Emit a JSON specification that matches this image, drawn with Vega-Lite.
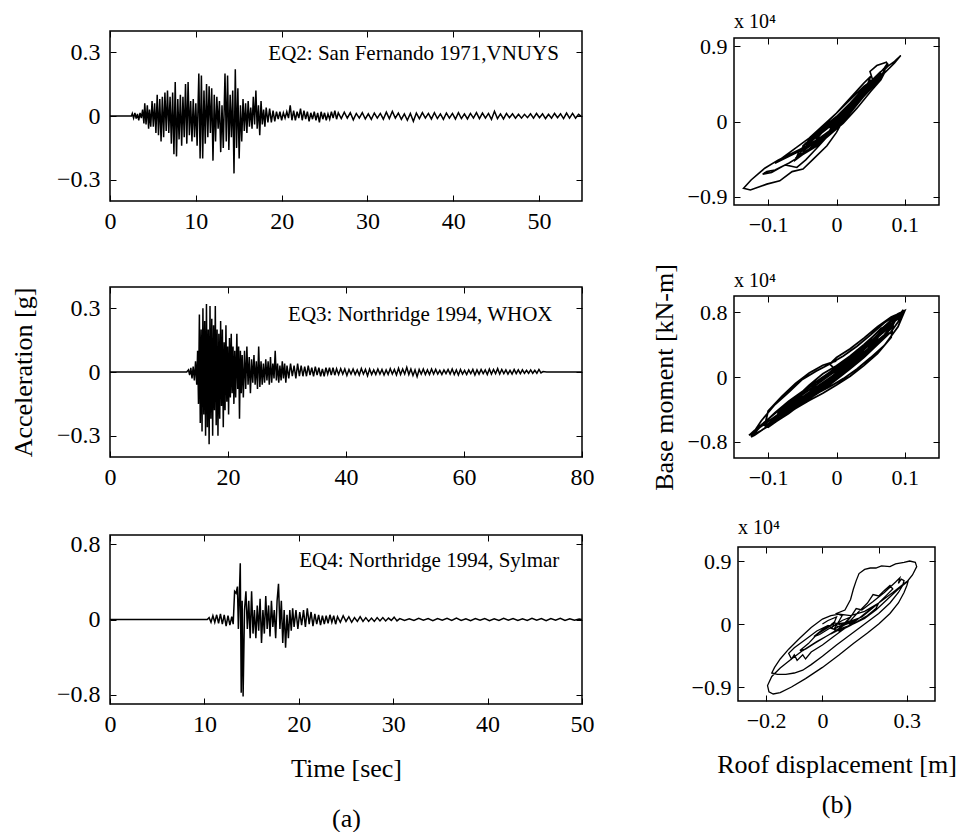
{
"$schema": "https://vega.github.io/schema/vega-lite/v6.json",
"background": "white",
"autosize": {"type": "pad"},
"padding": {"left": 9, "top": 11, "right": 0, "bottom": 0},
"bounds": "full",
"spacing": 55,
"hconcat": [
{"bounds": "flush", "spacing": 3, "vconcat": [
  {"width": 472, "height": 170,
   "layer": [
    {"data": {"values": [
{"t":0,"a":0},{"t":2.5,"a":0},{"t":2.6,"a":0.012},{"t":2.75,"a":-0.01},{"t":2.9,"a":0.015},{"t":3.05,"a":-0.012},{"t":3.2,"a":0.01},{"t":3.35,"a":-0.02},{"t":3.5,"a":0.015},{"t":3.65,"a":-0.01},{"t":3.8,"a":0.03},{"t":3.95,"a":-0.035},{"t":4.05,"a":0.06},{"t":4.2,"a":-0.04},{"t":4.35,"a":0.05},{"t":4.5,"a":-0.06},{"t":4.6,"a":0.03},{"t":4.75,"a":-0.05},{"t":4.9,"a":0.07},{"t":5.05,"a":-0.05},{"t":5.2,"a":0.06},{"t":5.35,"a":-0.08},{"t":5.5,"a":0.1},{"t":5.65,"a":-0.09},{"t":5.8,"a":0.08},{"t":5.95,"a":-0.12},{"t":6.1,"a":0.09},{"t":6.25,"a":-0.1},{"t":6.4,"a":0.11},{"t":6.55,"a":-0.07},{"t":6.7,"a":0.12},{"t":6.85,"a":-0.08},{"t":7.0,"a":0.09},{"t":7.15,"a":-0.13},{"t":7.3,"a":0.11},{"t":7.45,"a":-0.18},{"t":7.6,"a":0.16},{"t":7.75,"a":-0.19},{"t":7.9,"a":0.08},{"t":8.05,"a":-0.11},{"t":8.2,"a":0.1},{"t":8.35,"a":-0.14},{"t":8.5,"a":0.09},{"t":8.65,"a":-0.1},{"t":8.8,"a":0.15},{"t":8.95,"a":-0.13},{"t":9.1,"a":0.16},{"t":9.25,"a":-0.09},{"t":9.4,"a":0.07},{"t":9.55,"a":-0.12},{"t":9.7,"a":0.08},{"t":9.85,"a":-0.1},{"t":10.0,"a":0.06},{"t":10.15,"a":-0.14},{"t":10.35,"a":0.2},{"t":10.5,"a":-0.2},{"t":10.65,"a":0.19},{"t":10.8,"a":-0.2},{"t":10.95,"a":0.12},{"t":11.1,"a":-0.13},{"t":11.25,"a":0.15},{"t":11.4,"a":-0.1},{"t":11.55,"a":0.14},{"t":11.7,"a":-0.08},{"t":11.85,"a":0.13},{"t":12.0,"a":-0.21},{"t":12.15,"a":0.1},{"t":12.3,"a":-0.12},{"t":12.45,"a":0.09},{"t":12.6,"a":-0.06},{"t":12.75,"a":0.07},{"t":12.9,"a":-0.17},{"t":13.05,"a":0.05},{"t":13.2,"a":-0.15},{"t":13.4,"a":0.2},{"t":13.55,"a":-0.12},{"t":13.7,"a":0.19},{"t":13.85,"a":-0.16},{"t":14.0,"a":0.1},{"t":14.15,"a":-0.1},{"t":14.3,"a":0.12},{"t":14.45,"a":-0.27},{"t":14.6,"a":0.22},{"t":14.75,"a":-0.15},{"t":14.9,"a":0.13},{"t":15.05,"a":-0.2},{"t":15.2,"a":0.05},{"t":15.35,"a":-0.12},{"t":15.5,"a":0.08},{"t":15.65,"a":-0.07},{"t":15.8,"a":0.06},{"t":15.95,"a":-0.08},{"t":16.1,"a":0.07},{"t":16.25,"a":-0.05},{"t":16.4,"a":0.04},{"t":16.55,"a":-0.06},{"t":16.7,"a":0.09},{"t":16.85,"a":-0.04},{"t":17.0,"a":0.12},{"t":17.15,"a":-0.06},{"t":17.3,"a":0.05},{"t":17.45,"a":-0.09},{"t":17.6,"a":0.07},{"t":17.75,"a":-0.04},{"t":17.9,"a":0.03},{"t":18.05,"a":-0.05},{"t":18.2,"a":0.04},{"t":18.4,"a":-0.03},{"t":18.6,"a":0.035},{"t":18.8,"a":-0.03},{"t":19.0,"a":0.025},{"t":19.2,"a":-0.025},{"t":19.4,"a":0.02},{"t":19.6,"a":-0.015},{"t":19.8,"a":0.02},{"t":20.0,"a":-0.02},{"t":20.2,"a":0.015},{"t":20.4,"a":-0.01},{"t":20.6,"a":0.02},{"t":20.8,"a":-0.01},{"t":21.0,"a":0.05},{"t":21.2,"a":-0.02},{"t":21.4,"a":0.025},{"t":21.6,"a":-0.02},{"t":21.8,"a":0.02},{"t":22.0,"a":-0.01},{"t":22.2,"a":0.035},{"t":22.4,"a":-0.02},{"t":22.6,"a":0.025},{"t":22.8,"a":-0.015},{"t":23.0,"a":0.02},{"t":23.2,"a":-0.025},{"t":23.4,"a":0.015},{"t":23.6,"a":-0.015},{"t":23.8,"a":0.02},{"t":24.0,"a":-0.02},{"t":24.2,"a":0.015},{"t":24.4,"a":-0.03},{"t":24.6,"a":0.02},{"t":24.8,"a":-0.015},{"t":25.0,"a":0.015},{"t":25.2,"a":-0.02},{"t":25.4,"a":0.01},{"t":25.6,"a":-0.015},{"t":25.8,"a":0.02},{"t":26.0,"a":-0.01},{"t":26.2,"a":0.025},{"t":26.4,"a":-0.015},{"t":26.6,"a":0.015},
{"t":26.95,"a":-0.012},{"t":27.3,"a":0.018},{"t":27.65,"a":-0.01},{"t":28.0,"a":0.015},{"t":28.35,"a":-0.018},{"t":28.7,"a":0.012},{"t":29.05,"a":-0.01},{"t":29.4,"a":0.016},{"t":29.75,"a":-0.014},{"t":30.1,"a":0.01},{"t":30.45,"a":-0.016},{"t":30.8,"a":0.014},{"t":31.15,"a":-0.01},{"t":31.5,"a":0.012},{"t":31.85,"a":-0.015},{"t":32.2,"a":0.018},{"t":32.55,"a":-0.012},{"t":32.9,"a":0.022},{"t":33.25,"a":-0.01},{"t":33.6,"a":0.014},{"t":33.95,"a":-0.016},{"t":34.3,"a":0.01},{"t":34.65,"a":-0.02},{"t":35.0,"a":0.012},{"t":35.35,"a":-0.025},{"t":35.7,"a":0.014},{"t":36.05,"a":-0.012},{"t":36.4,"a":0.016},{"t":36.75,"a":-0.01},{"t":37.1,"a":0.012},{"t":37.45,"a":-0.014},{"t":37.8,"a":0.016},{"t":38.15,"a":-0.012},{"t":38.5,"a":0.01},{"t":38.85,"a":-0.016},{"t":39.2,"a":0.014},{"t":39.55,"a":-0.01},{"t":39.9,"a":0.012},{"t":40.25,"a":-0.014},{"t":40.6,"a":0.016},{"t":40.95,"a":-0.012},{"t":41.3,"a":0.01},{"t":41.65,"a":-0.014},{"t":42.0,"a":0.012},{"t":42.35,"a":-0.01},{"t":42.7,"a":0.016},{"t":43.05,"a":-0.012},{"t":43.4,"a":0.014},{"t":43.75,"a":-0.01},{"t":44.1,"a":0.012},{"t":44.45,"a":-0.016},{"t":44.8,"a":0.022},{"t":45.15,"a":-0.012},{"t":45.5,"a":0.01},{"t":45.85,"a":-0.014},{"t":46.2,"a":0.012},{"t":46.55,"a":-0.008},{"t":46.9,"a":0.01},{"t":47.25,"a":-0.01},{"t":47.6,"a":0.008},{"t":47.95,"a":-0.01},{"t":48.3,"a":0.008},{"t":48.65,"a":-0.008},{"t":49.0,"a":0.01},{"t":49.35,"a":-0.01},{"t":49.7,"a":0.012},{"t":50.05,"a":-0.008},{"t":50.4,"a":0.01},{"t":50.75,"a":-0.012},{"t":51.1,"a":0.008},{"t":51.45,"a":-0.01},{"t":51.8,"a":0.012},{"t":52.15,"a":-0.008},{"t":52.5,"a":0.01},{"t":52.85,"a":-0.012},{"t":53.2,"a":0.014},{"t":53.55,"a":-0.01},{"t":53.9,"a":0.012},{"t":54.25,"a":-0.01},{"t":54.6,"a":0.008},{"t":55.0,"a":-0.004}
    ]},
     "mark": {"type": "line", "strokeWidth": 1.5, "clip": true},
     "encoding": {
      "x": {"field": "t", "type": "quantitative", "scale": {"domain": [0, 55], "nice": false, "zero": false},
            "axis": {"orient": "bottom", "values": [0,10,20,30,40,50], "title": null, "labelPadding": 14}},
      "y": {"field": "a", "type": "quantitative", "scale": {"domain": [-0.4, 0.4], "nice": false},
            "axis": {"orient": "left", "values": [-0.3,0,0.3], "title": null, "labelPadding": 16}}
     }},
    {"data": {"values": [{}]},
     "mark": {"type": "text", "align": "right", "baseline": "middle", "fontSize": 21},
     "encoding": {
      "x": {"datum": 52.3, "type": "quantitative", "axis": {"orient": "top", "values": [0,10,20,30,40,50], "labels": false, "title": null}},
      "y": {"datum": 0.29, "type": "quantitative", "axis": {"orient": "right", "values": [-0.3,0,0.3], "labels": false, "title": null}},
      "text": {"value": "EQ2: San Fernando 1971,VNUYS"}
     }}
   ],
   "resolve": {"axis": {"x": "independent", "y": "independent"}}
  },
  {"width": 1, "height": 80, "data": {"values": [{}]}, "mark": {"type": "point", "opacity": 0}, "encoding": {}, "view": {"stroke": null}},
  {"width": 472, "height": 170,
   "layer": [
    {"data": {"values": [
{"t":0,"a":0},{"t":13.0,"a":0},{"t":13.3,"a":0.01},{"t":13.5,"a":-0.015},{"t":13.7,"a":0.02},{"t":13.9,"a":-0.03},{"t":14.1,"a":0.025},{"t":14.3,"a":-0.04},{"t":14.5,"a":0.05},{"t":14.7,"a":-0.06},{"t":14.85,"a":0.1},{"t":15.0,"a":-0.15},{"t":15.15,"a":0.27},{"t":15.3,"a":-0.24},{"t":15.45,"a":0.2},{"t":15.6,"a":-0.28},{"t":15.75,"a":0.3},{"t":15.9,"a":-0.2},{"t":16.05,"a":0.24},{"t":16.2,"a":-0.3},{"t":16.35,"a":0.32},{"t":16.5,"a":-0.26},{"t":16.65,"a":0.2},{"t":16.8,"a":-0.34},{"t":16.95,"a":0.31},{"t":17.1,"a":-0.22},{"t":17.25,"a":0.25},{"t":17.4,"a":-0.3},{"t":17.55,"a":0.22},{"t":17.7,"a":-0.18},{"t":17.85,"a":0.31},{"t":18.0,"a":-0.25},{"t":18.15,"a":0.2},{"t":18.3,"a":-0.3},{"t":18.45,"a":0.18},{"t":18.6,"a":-0.22},{"t":18.75,"a":0.24},{"t":18.9,"a":-0.16},{"t":19.05,"a":0.2},{"t":19.2,"a":-0.26},{"t":19.35,"a":0.14},{"t":19.5,"a":-0.18},{"t":19.65,"a":0.22},{"t":19.8,"a":-0.14},{"t":19.95,"a":0.12},{"t":20.1,"a":-0.2},{"t":20.25,"a":0.16},{"t":20.4,"a":-0.12},{"t":20.55,"a":0.18},{"t":20.7,"a":-0.1},{"t":20.85,"a":0.12},{"t":21.0,"a":-0.15},{"t":21.15,"a":0.1},{"t":21.3,"a":-0.12},{"t":21.5,"a":0.18},{"t":21.65,"a":-0.08},{"t":21.8,"a":0.12},{"t":21.95,"a":-0.22},{"t":22.1,"a":0.1},{"t":22.25,"a":-0.1},{"t":22.4,"a":0.08},{"t":22.6,"a":-0.12},{"t":22.8,"a":0.1},{"t":23.0,"a":-0.08},{"t":23.2,"a":0.12},{"t":23.4,"a":-0.06},{"t":23.6,"a":0.07},{"t":23.8,"a":-0.1},{"t":24.0,"a":0.06},{"t":24.2,"a":-0.05},{"t":24.4,"a":0.08},{"t":24.6,"a":-0.06},{"t":24.8,"a":0.05},{"t":25.0,"a":-0.08},{"t":25.2,"a":0.12},{"t":25.4,"a":-0.07},{"t":25.6,"a":0.05},{"t":25.8,"a":-0.06},{"t":26.0,"a":0.04},{"t":26.2,"a":-0.05},{"t":26.4,"a":0.06},{"t":26.6,"a":-0.04},{"t":26.8,"a":0.05},{"t":27.0,"a":-0.06},{"t":27.2,"a":0.07},{"t":27.4,"a":-0.05},{"t":27.6,"a":0.04},{"t":27.8,"a":-0.03},{"t":28.0,"a":0.1},{"t":28.2,"a":-0.04},{"t":28.4,"a":0.04},{"t":28.6,"a":-0.05},{"t":28.8,"a":0.03},{"t":29.0,"a":-0.04},{"t":29.2,"a":0.05},{"t":29.4,"a":-0.03},{"t":29.6,"a":0.04},{"t":29.8,"a":-0.05},{"t":30.0,"a":0.03},{"t":30.3,"a":-0.03},{"t":30.6,"a":0.04},{"t":30.9,"a":-0.02},{"t":31.2,"a":0.03},{"t":31.5,"a":-0.03},{"t":31.8,"a":0.04},{"t":32.1,"a":-0.02},{"t":32.4,"a":0.03},{"t":32.7,"a":-0.02},{"t":33.0,"a":0.025},{"t":33.3,"a":-0.02},{"t":33.6,"a":0.03},{"t":33.9,"a":-0.015},{"t":34.2,"a":0.02},{"t":34.5,"a":-0.02},{"t":34.8,"a":0.025},{"t":35.1,"a":-0.015},{"t":35.4,"a":0.02},{"t":35.7,"a":-0.02},{"t":36.0,"a":0.015},{"t":36.3,"a":-0.02},{"t":36.6,"a":0.02},{"t":36.9,"a":-0.01},{"t":37.2,"a":0.02},{"t":37.5,"a":-0.015},{"t":37.8,"a":0.02},{"t":38.1,"a":-0.015},{"t":38.4,"a":0.015},
{"t":38.75,"a":-0.012},{"t":39.1,"a":0.016},{"t":39.45,"a":-0.01},{"t":39.8,"a":0.014},{"t":40.15,"a":-0.016},{"t":40.5,"a":0.012},{"t":40.85,"a":-0.01},{"t":41.2,"a":0.014},{"t":41.55,"a":-0.012},{"t":41.9,"a":0.01},{"t":42.25,"a":-0.014},{"t":42.6,"a":0.016},{"t":42.95,"a":-0.01},{"t":43.3,"a":0.012},{"t":43.65,"a":-0.018},{"t":44.0,"a":0.014},{"t":44.35,"a":-0.012},{"t":44.7,"a":0.01},{"t":45.05,"a":-0.012},{"t":45.4,"a":0.014},{"t":45.75,"a":-0.01},{"t":46.1,"a":0.012},{"t":46.45,"a":-0.014},{"t":46.8,"a":0.01},{"t":47.15,"a":-0.012},{"t":47.5,"a":0.016},{"t":47.85,"a":-0.01},{"t":48.2,"a":0.012},{"t":48.55,"a":-0.014},{"t":48.9,"a":0.018},{"t":49.25,"a":-0.012},{"t":49.6,"a":0.014},{"t":49.95,"a":-0.01},{"t":50.3,"a":0.022},{"t":50.65,"a":-0.012},{"t":51.0,"a":0.014},{"t":51.35,"a":-0.016},{"t":51.7,"a":0.01},{"t":52.05,"a":-0.022},{"t":52.4,"a":0.012},{"t":52.75,"a":-0.01},{"t":53.1,"a":0.014},{"t":53.45,"a":-0.012},{"t":53.8,"a":0.01},{"t":54.15,"a":-0.012},{"t":54.5,"a":0.014},{"t":54.85,"a":-0.01},{"t":55.2,"a":0.012},{"t":55.55,"a":-0.01},{"t":55.9,"a":0.008},{"t":56.25,"a":-0.012},{"t":56.6,"a":0.01},{"t":56.95,"a":-0.008},{"t":57.3,"a":0.012},{"t":57.65,"a":-0.01},{"t":58.0,"a":0.014},{"t":58.35,"a":-0.012},{"t":58.7,"a":0.01},{"t":59.05,"a":-0.014},{"t":59.4,"a":0.012},{"t":59.75,"a":-0.01},{"t":60.1,"a":0.008},{"t":60.45,"a":-0.012},{"t":60.8,"a":0.01},{"t":61.15,"a":-0.008},{"t":61.5,"a":0.012},{"t":61.85,"a":-0.014},{"t":62.2,"a":0.01},{"t":62.55,"a":-0.01},{"t":62.9,"a":0.012},{"t":63.25,"a":-0.008},{"t":63.6,"a":0.01},{"t":63.95,"a":-0.012},{"t":64.3,"a":0.014},{"t":64.65,"a":-0.01},{"t":65.0,"a":0.012},{"t":65.35,"a":-0.008},{"t":65.7,"a":0.016},{"t":66.05,"a":-0.01},{"t":66.4,"a":0.012},{"t":66.75,"a":-0.008},{"t":67.1,"a":0.01},{"t":67.45,"a":-0.01},{"t":67.8,"a":0.008},{"t":68.15,"a":-0.01},{"t":68.5,"a":0.012},{"t":68.85,"a":-0.008},{"t":69.2,"a":0.01},{"t":69.55,"a":-0.008},{"t":69.9,"a":0.01},{"t":70.25,"a":-0.006},{"t":70.6,"a":0.008},{"t":70.95,"a":-0.006},{"t":71.3,"a":0.01},{"t":71.65,"a":-0.006},{"t":72.0,"a":0.008},{"t":72.35,"a":-0.006},{"t":72.7,"a":0.012},{"t":73.05,"a":-0.004},{"t":73.4,"a":0.002},{"t":74,"a":0},{"t":80,"a":0}
    ]},
     "mark": {"type": "line", "strokeWidth": 1.5, "clip": true},
     "encoding": {
      "x": {"field": "t", "type": "quantitative", "scale": {"domain": [0, 80], "nice": false, "zero": false},
            "axis": {"orient": "bottom", "values": [0,20,40,60,80], "title": null, "labelPadding": 14}},
      "y": {"field": "a", "type": "quantitative", "scale": {"domain": [-0.4, 0.4], "nice": false},
            "axis": {"orient": "left", "values": [-0.3,0,0.3], "title": "Acceleration [g]", "titlePadding": 20, "labelPadding": 16}}
     }},
    {"data": {"values": [{}]},
     "mark": {"type": "text", "align": "right", "baseline": "middle", "fontSize": 21},
     "encoding": {
      "x": {"datum": 75.0, "type": "quantitative", "axis": {"orient": "top", "values": [0,20,40,60,80], "labels": false, "title": null}},
      "y": {"datum": 0.27, "type": "quantitative", "axis": {"orient": "right", "values": [-0.3,0,0.3], "labels": false, "title": null}},
      "text": {"value": "EQ3: Northridge 1994, WHOX"}
     }}
   ],
   "resolve": {"axis": {"x": "independent", "y": "independent"}}
  },
  {"width": 1, "height": 72, "data": {"values": [{}]}, "mark": {"type": "point", "opacity": 0}, "encoding": {}, "view": {"stroke": null}},
  {"width": 472, "height": 169,
   "layer": [
    {"data": {"values": [
{"t":0,"a":0},{"t":10.3,"a":0},{"t":10.5,"a":0.02},{"t":10.7,"a":-0.03},{"t":10.9,"a":0.04},{"t":11.1,"a":-0.03},{"t":11.3,"a":0.05},{"t":11.5,"a":-0.04},{"t":11.7,"a":0.06},{"t":11.9,"a":-0.05},{"t":12.1,"a":0.05},{"t":12.3,"a":-0.07},{"t":12.5,"a":0.04},{"t":12.7,"a":-0.06},{"t":12.9,"a":0.03},{"t":13.05,"a":-0.05},{"t":13.2,"a":0.3},{"t":13.35,"a":0.28},{"t":13.5,"a":0.35},{"t":13.6,"a":-0.1},{"t":13.7,"a":0.25},{"t":13.8,"a":0.6},{"t":13.9,"a":-0.78},{"t":14.0,"a":0.2},{"t":14.1,"a":-0.82},{"t":14.25,"a":0.1},{"t":14.4,"a":0.3},{"t":14.55,"a":-0.1},{"t":14.7,"a":0.2},{"t":14.85,"a":-0.2},{"t":15.0,"a":0.3},{"t":15.15,"a":-0.15},{"t":15.3,"a":0.1},{"t":15.45,"a":-0.2},{"t":15.6,"a":0.15},{"t":15.75,"a":-0.12},{"t":15.9,"a":0.22},{"t":16.05,"a":-0.25},{"t":16.2,"a":0.1},{"t":16.35,"a":-0.15},{"t":16.5,"a":0.25},{"t":16.65,"a":-0.1},{"t":16.8,"a":0.15},{"t":16.95,"a":-0.18},{"t":17.1,"a":0.2},{"t":17.25,"a":-0.08},{"t":17.4,"a":0.1},{"t":17.55,"a":-0.2},{"t":17.7,"a":0.2},{"t":17.85,"a":0.38},{"t":18.0,"a":-0.1},{"t":18.15,"a":0.2},{"t":18.3,"a":-0.25},{"t":18.45,"a":0.1},{"t":18.6,"a":-0.3},{"t":18.75,"a":0.05},{"t":18.9,"a":-0.2},{"t":19.05,"a":0.1},{"t":19.2,"a":-0.12},{"t":19.35,"a":0.12},{"t":19.5,"a":-0.08},{"t":19.7,"a":0.1},{"t":19.9,"a":-0.1},{"t":20.1,"a":0.08},{"t":20.3,"a":-0.06},{"t":20.5,"a":0.1},{"t":20.7,"a":-0.08},{"t":20.9,"a":0.12},{"t":21.1,"a":-0.05},{"t":21.3,"a":0.08},{"t":21.5,"a":-0.07},{"t":21.7,"a":0.06},{"t":21.9,"a":-0.05},{"t":22.1,"a":0.05},{"t":22.3,"a":-0.06},{"t":22.5,"a":0.04},{"t":22.7,"a":-0.05},{"t":22.9,"a":0.04},{"t":23.1,"a":-0.04},{"t":23.3,"a":0.05},{"t":23.5,"a":-0.03},{"t":23.7,"a":0.04},{"t":23.9,"a":-0.05},{"t":24.1,"a":0.03},{"t":24.4,"a":-0.03},{"t":24.7,"a":0.04},{"t":25.0,"a":-0.02},{"t":25.3,"a":0.03},{"t":25.6,"a":-0.03},{"t":25.9,"a":0.02},{"t":26.2,"a":-0.02},{"t":26.5,"a":0.03},{"t":26.8,"a":-0.02},{"t":27.1,"a":0.02},{"t":27.4,"a":-0.02},{"t":27.7,"a":0.015},{"t":28.0,"a":-0.02},{"t":28.3,"a":0.02},{"t":28.6,"a":-0.015},{"t":28.9,"a":0.02},{"t":29.2,"a":-0.015},{"t":29.5,"a":0.015},{"t":29.8,"a":-0.01},{"t":30.1,"a":0.025},{"t":30.4,"a":-0.015},{"t":30.7,"a":0.01},{"t":31.2,"a":-0.01},{"t":31.7,"a":0.008},{"t":32.2,"a":-0.01},{"t":32.7,"a":0.012},{"t":33.2,"a":-0.008},{"t":33.7,"a":0.01},{"t":34.2,"a":-0.012},{"t":34.7,"a":0.01},{"t":35.2,"a":-0.008},{"t":35.7,"a":0.012},{"t":36.2,"a":-0.01},{"t":36.7,"a":0.014},{"t":37.2,"a":-0.01},{"t":37.7,"a":0.008},{"t":38.2,"a":-0.012},{"t":38.7,"a":0.01},{"t":39.2,"a":-0.008},{"t":39.7,"a":0.01},{"t":40.2,"a":-0.012},{"t":40.7,"a":0.008},{"t":41.2,"a":-0.01},{"t":41.7,"a":0.012},{"t":42.2,"a":-0.008},{"t":42.7,"a":0.01},{"t":43.2,"a":-0.01},{"t":43.7,"a":0.008},{"t":44.2,"a":-0.01},{"t":44.7,"a":0.012},{"t":45.2,"a":-0.008},{"t":45.7,"a":0.01},{"t":46.2,"a":-0.012},{"t":46.7,"a":0.01},{"t":47.2,"a":-0.008},{"t":47.7,"a":0.012},{"t":48.2,"a":-0.01},{"t":48.7,"a":0.008},{"t":49.2,"a":-0.008},{"t":49.7,"a":0.006},{"t":50,"a":0}
   ]},
    "mark": {"type": "line", "strokeWidth": 1.5, "clip": true},
    "encoding": {
     "x": {"field": "t", "type": "quantitative", "scale": {"domain": [0, 50], "nice": false, "zero": false},
           "axis": {"orient": "bottom", "values": [0,10,20,30,40,50], "title": ["Time [sec]", "(a)"], "titleLineHeight": 50, "titlePadding": 19, "labelPadding": 14}},
     "y": {"field": "a", "type": "quantitative", "scale": {"domain": [-0.9, 0.9], "nice": false},
           "axis": {"orient": "left", "values": [-0.8,0,0.8], "title": null, "labelPadding": 16}}
    }},
   {"data": {"values": [{}]},
    "mark": {"type": "text", "align": "right", "baseline": "middle", "fontSize": 21},
    "encoding": {
     "x": {"datum": 47.6, "type": "quantitative", "axis": {"orient": "top", "values": [0,10,20,30,40,50], "labels": false, "title": null}},
     "y": {"datum": 0.62, "type": "quantitative", "axis": {"orient": "right", "values": [-0.8,0,0.8], "labels": false, "title": null}},
     "text": {"value": "EQ4: Northridge 1994, Sylmar"}
    }}
  ],
  "resolve": {"axis": {"x": "independent", "y": "independent"}}
 }
]},
{"bounds": "flush", "spacing": 3, "center": true, "vconcat": [
  {"width": 1, "height": 4, "data": {"values": [{}]}, "mark": {"type": "point", "opacity": 0}, "encoding": {}, "view": {"stroke": null}},
  {"width": 205, "height": 167,
   "layer": [
    {"data": {"values": [
{"d":0,"m":0},{"d":0.015,"m":0.12},{"d":0.005,"m":0.02},{"d":-0.01,"m":-0.1},{"d":0.0,"m":-0.02},{"d":0.02,"m":0.16},{"d":0.035,"m":0.3},{"d":0.025,"m":0.2},{"d":0.005,"m":0.0},{"d":-0.015,"m":-0.15},{"d":-0.03,"m":-0.22},{"d":-0.02,"m":-0.12},{"d":0.0,"m":0.02},{"d":0.02,"m":0.2},{"d":0.04,"m":0.38},{"d":0.05,"m":0.46},{"d":0.04,"m":0.33},{"d":0.02,"m":0.13},{"d":0.0,"m":-0.06},{"d":-0.02,"m":-0.18},{"d":-0.04,"m":-0.3},{"d":-0.05,"m":-0.36},{"d":-0.04,"m":-0.24},{"d":-0.02,"m":-0.08},{"d":0.0,"m":0.06},{"d":0.02,"m":0.22},{"d":0.04,"m":0.4},{"d":0.055,"m":0.52},{"d":0.065,"m":0.6},{"d":0.05,"m":0.48},{"d":0.03,"m":0.27},{"d":0.01,"m":0.06},{"d":-0.01,"m":-0.12},{"d":-0.03,"m":-0.26},{"d":-0.05,"m":-0.4},{"d":-0.07,"m":-0.5},{"d":-0.09,"m":-0.58},{"d":-0.102,"m":-0.6},{"d":-0.108,"m":-0.63},{"d":-0.095,"m":-0.61},{"d":-0.075,"m":-0.52},{"d":-0.058,"m":-0.55},{"d":-0.045,"m":-0.46},{"d":-0.03,"m":-0.33},{"d":-0.01,"m":-0.15},{"d":0.01,"m":0.04},{"d":0.03,"m":0.24},{"d":0.05,"m":0.43},{"d":0.06,"m":0.55},{"d":0.07,"m":0.64},{"d":0.075,"m":0.7},{"d":0.07,"m":0.6},{"d":0.055,"m":0.47},{"d":0.035,"m":0.28},{"d":0.015,"m":0.1},{"d":-0.005,"m":-0.08},{"d":-0.025,"m":-0.2},{"d":-0.045,"m":-0.3},{"d":-0.065,"m":-0.38},{"d":-0.085,"m":-0.46},{"d":-0.105,"m":-0.56},{"d":-0.125,"m":-0.7},{"d":-0.136,"m":-0.8},{"d":-0.126,"m":-0.82},{"d":-0.102,"m":-0.75},{"d":-0.083,"m":-0.71},{"d":-0.065,"m":-0.6},{"d":-0.049,"m":-0.57},{"d":-0.034,"m":-0.45},{"d":-0.014,"m":-0.29},{"d":0.0,"m":-0.13},{"d":0.015,"m":0.09},{"d":0.034,"m":0.29},{"d":0.054,"m":0.47},{"d":0.049,"m":0.6},{"d":0.059,"m":0.67},{"d":0.073,"m":0.71},{"d":0.076,"m":0.67},{"d":0.068,"m":0.6},{"d":0.073,"m":0.65},{"d":0.085,"m":0.72},{"d":0.094,"m":0.79},{"d":0.085,"m":0.7},{"d":0.07,"m":0.58},{"d":0.05,"m":0.42},{"d":0.03,"m":0.22},{"d":0.01,"m":0.02},{"d":-0.01,"m":-0.14},{"d":-0.03,"m":-0.25},{"d":-0.05,"m":-0.34},{"d":-0.07,"m":-0.42},{"d":-0.09,"m":-0.5},{"d":-0.08,"m":-0.44},{"d":-0.06,"m":-0.32},{"d":-0.04,"m":-0.2},{"d":-0.02,"m":-0.05},{"d":0.0,"m":0.1},{"d":0.02,"m":0.26},{"d":0.04,"m":0.42},{"d":0.045,"m":0.45},{"d":0.035,"m":0.32},{"d":0.015,"m":0.14},{"d":-0.005,"m":-0.03},{"d":-0.025,"m":-0.16},{"d":-0.035,"m":-0.22},{"d":-0.02,"m":-0.1},{"d":0.0,"m":0.04},{"d":0.01,"m":0.1},{"d":0,"m":0.02},
{"d":0.02,"m":0.18},{"d":0.04,"m":0.36},{"d":0.06,"m":0.54},{"d":0.065,"m":0.58},{"d":0.05,"m":0.4},{"d":0.03,"m":0.2},{"d":0.01,"m":0.0},{"d":-0.01,"m":-0.16},{"d":-0.03,"m":-0.28},{"d":-0.05,"m":-0.38},{"d":-0.06,"m":-0.44},{"d":-0.045,"m":-0.3},{"d":-0.025,"m":-0.14},{"d":-0.005,"m":0.0},{"d":0.015,"m":0.16},{"d":0.035,"m":0.34},{"d":0.05,"m":0.5},{"d":0.045,"m":0.38},{"d":0.025,"m":0.18},{"d":0.005,"m":-0.02},{"d":-0.015,"m":-0.18},{"d":-0.035,"m":-0.3},{"d":-0.04,"m":-0.26},{"d":-0.02,"m":-0.12},{"d":0.0,"m":0.02},{"d":0.02,"m":0.2},{"d":0.03,"m":0.26},{"d":0.01,"m":0.06},{"d":-0.01,"m":-0.08},{"d":0.0,"m":0.0},
{"d":0.02,"m":0.12},{"d":0.04,"m":0.3},{"d":0.06,"m":0.48},{"d":0.07,"m":0.58},{"d":0.065,"m":0.5},{"d":0.05,"m":0.36},{"d":0.03,"m":0.16},{"d":0.01,"m":-0.02},{"d":-0.01,"m":-0.16},{"d":-0.03,"m":-0.3},{"d":-0.05,"m":-0.4},{"d":-0.06,"m":-0.46},{"d":-0.055,"m":-0.36},{"d":-0.04,"m":-0.22},{"d":-0.02,"m":-0.06},{"d":0.0,"m":0.1},{"d":0.02,"m":0.28},{"d":0.04,"m":0.46},{"d":0.05,"m":0.54},{"d":0.045,"m":0.44},{"d":0.03,"m":0.3},{"d":0.01,"m":0.1},{"d":-0.01,"m":-0.06},{"d":-0.03,"m":-0.18},{"d":-0.045,"m":-0.26},{"d":-0.05,"m":-0.3},{"d":-0.035,"m":-0.2},{"d":-0.015,"m":-0.04},{"d":0.0,"m":0.06}
    ]},
     "mark": {"type": "line", "strokeWidth": 1.6, "clip": true},
     "encoding": {
      "x": {"field": "d", "type": "quantitative", "scale": {"domain": [-0.15, 0.15], "nice": false, "zero": false},
            "axis": {"orient": "bottom", "values": [-0.1,0,0.1], "title": null, "labelFontSize": 22, "labelPadding": 15}},
      "y": {"field": "m", "type": "quantitative", "scale": {"domain": [-1, 1], "nice": false, "zero": false},
            "axis": {"orient": "left", "values": [-0.9,0,0.9], "title": null, "labelFontSize": 22, "labelPadding": 13}},
      "order": {"value": null}
     }},
    {"data": {"values": [{}]},
     "mark": {"type": "text", "align": "left", "baseline": "alphabetic", "fontSize": 20, "dy": -10},
     "encoding": {
      "x": {"datum": -0.15, "type": "quantitative", "axis": {"orient": "top", "values": [-0.1,0,0.1], "labels": false, "title": null}},
      "y": {"datum": 1, "type": "quantitative", "axis": {"orient": "right", "values": [-0.9,0,0.9], "labels": false, "title": null}},
      "text": {"value": "x 10⁴"}
     }}
   ],
   "resolve": {"axis": {"x": "independent", "y": "independent"}}
  },
  {"width": 1, "height": 85, "data": {"values": [{}]}, "mark": {"type": "point", "opacity": 0}, "encoding": {}, "view": {"stroke": null}},
  {"width": 205, "height": 162,
   "layer": [
    {"data": {"values": [
{"d":0,"m":0.05},{"d":0.02,"m":0.22},{"d":0.035,"m":0.33},{"d":0.03,"m":0.25},{"d":0.01,"m":0.08},{"d":-0.01,"m":-0.06},{"d":-0.03,"m":-0.15},{"d":-0.04,"m":-0.2},{"d":-0.03,"m":-0.06},{"d":-0.01,"m":0.06},{"d":0.01,"m":0.18},{"d":0.03,"m":0.33},{"d":0.05,"m":0.45},{"d":0.055,"m":0.47},{"d":0.045,"m":0.33},{"d":0.02,"m":0.12},{"d":0,"m":-0.03},{"d":-0.02,"m":-0.14},{"d":-0.05,"m":-0.3},{"d":-0.06,"m":-0.36},{"d":-0.055,"m":-0.24},{"d":-0.035,"m":-0.09},{"d":-0.01,"m":0.06},{"d":0.01,"m":0.17},{"d":0.03,"m":0.32},{"d":0.05,"m":0.47},{"d":0.065,"m":0.6},{"d":0.07,"m":0.62},{"d":0.06,"m":0.48},{"d":0.04,"m":0.28},{"d":0.02,"m":0.1},{"d":0,"m":-0.02},{"d":-0.03,"m":-0.2},{"d":-0.06,"m":-0.36},{"d":-0.08,"m":-0.49},{"d":-0.09,"m":-0.55},{"d":-0.085,"m":-0.44},{"d":-0.06,"m":-0.26},{"d":-0.04,"m":-0.1},{"d":-0.02,"m":0.04},{"d":0.0,"m":0.14},{"d":0.02,"m":0.26},{"d":0.04,"m":0.4},{"d":0.06,"m":0.55},{"d":0.08,"m":0.7},{"d":0.09,"m":0.76},{"d":0.085,"m":0.68},{"d":0.07,"m":0.52},{"d":0.05,"m":0.38},{"d":0.03,"m":0.22},{"d":0.01,"m":0.06},{"d":-0.01,"m":-0.08},{"d":-0.03,"m":-0.2},{"d":-0.05,"m":-0.32},{"d":-0.07,"m":-0.45},{"d":-0.09,"m":-0.56},{"d":-0.11,"m":-0.66},{"d":-0.12,"m":-0.72},{"d":-0.125,"m":-0.74},{"d":-0.11,"m":-0.6},{"d":-0.09,"m":-0.44},{"d":-0.07,"m":-0.3},{"d":-0.05,"m":-0.18},{"d":-0.03,"m":-0.06},{"d":-0.01,"m":0.06},{"d":0.01,"m":0.18},{"d":0.03,"m":0.3},{"d":0.05,"m":0.43},{"d":0.07,"m":0.58},{"d":0.09,"m":0.72},{"d":0.1,"m":0.82},{"d":0.095,"m":0.76},{"d":0.09,"m":0.68},{"d":0.08,"m":0.56},{"d":0.06,"m":0.4},{"d":0.04,"m":0.24},{"d":0.02,"m":0.1},{"d":0,"m":-0.03},{"d":-0.02,"m":-0.16},{"d":-0.04,"m":-0.27},{"d":-0.06,"m":-0.38},{"d":-0.08,"m":-0.5},{"d":-0.1,"m":-0.6},{"d":-0.105,"m":-0.63},{"d":-0.09,"m":-0.5},{"d":-0.07,"m":-0.36},{"d":-0.05,"m":-0.22},{"d":-0.03,"m":-0.1},{"d":-0.01,"m":0.02},{"d":0.01,"m":0.14},{"d":0.03,"m":0.27},{"d":0.05,"m":0.42},{"d":0.07,"m":0.56},{"d":0.08,"m":0.64},{"d":0.075,"m":0.55},{"d":0.06,"m":0.42},{"d":0.04,"m":0.26},{"d":0.02,"m":0.12},{"d":0,"m":0.0},{"d":-0.02,"m":-0.12},{"d":-0.04,"m":-0.24},{"d":-0.06,"m":-0.34},{"d":-0.075,"m":-0.42},{"d":-0.065,"m":-0.3},{"d":-0.045,"m":-0.16},{"d":-0.025,"m":-0.04},{"d":-0.005,"m":0.08},{"d":0.015,"m":0.2},{"d":0.035,"m":0.34},{"d":0.045,"m":0.4},{"d":0.035,"m":0.28},{"d":0.015,"m":0.14},{"d":-0.005,"m":0.0},{"d":-0.025,"m":-0.12},{"d":-0.04,"m":-0.2},{"d":-0.03,"m":-0.1},{"d":-0.01,"m":0.04},{"d":0.01,"m":0.15},{"d":0.02,"m":0.18},{"d":0.005,"m":0.06},{"d":-0.01,"m":-0.04},{"d":0,"m":0.04},
{"d":0.015,"m":0.16},{"d":0.03,"m":0.3},{"d":0.05,"m":0.44},{"d":0.07,"m":0.6},{"d":0.085,"m":0.72},{"d":0.095,"m":0.8},{"d":0.098,"m":0.83},{"d":0.09,"m":0.74},{"d":0.075,"m":0.6},{"d":0.055,"m":0.45},{"d":0.035,"m":0.3},{"d":0.015,"m":0.16},{"d":-0.005,"m":0.02},{"d":-0.025,"m":-0.1},{"d":-0.045,"m":-0.22},{"d":-0.065,"m":-0.34},{"d":-0.085,"m":-0.46},{"d":-0.1,"m":-0.55},{"d":-0.115,"m":-0.64},{"d":-0.128,"m":-0.72},{"d":-0.12,"m":-0.66},{"d":-0.1,"m":-0.52},{"d":-0.08,"m":-0.38},{"d":-0.06,"m":-0.24},{"d":-0.04,"m":-0.12},{"d":-0.02,"m":0.0},{"d":0.0,"m":0.1},{"d":0.02,"m":0.24},{"d":0.04,"m":0.36},{"d":0.06,"m":0.5},{"d":0.075,"m":0.62},{"d":0.085,"m":0.68},{"d":0.08,"m":0.6},{"d":0.065,"m":0.48},{"d":0.045,"m":0.34},{"d":0.025,"m":0.2},{"d":0.005,"m":0.06},{"d":-0.015,"m":-0.06},{"d":-0.035,"m":-0.18},{"d":-0.055,"m":-0.3},{"d":-0.075,"m":-0.42},{"d":-0.095,"m":-0.52},{"d":-0.11,"m":-0.6},{"d":-0.1,"m":-0.58},{"d":-0.085,"m":-0.48},{"d":-0.065,"m":-0.36},{"d":-0.045,"m":-0.24},{"d":-0.025,"m":-0.12},{"d":-0.005,"m":0.0},{"d":0.015,"m":0.12},{"d":0.035,"m":0.26},{"d":0.055,"m":0.4},{"d":0.07,"m":0.52},{"d":0.06,"m":0.44},{"d":0.04,"m":0.3},{"d":0.02,"m":0.16},{"d":0.0,"m":0.02},{"d":-0.02,"m":-0.1},{"d":-0.04,"m":-0.22},{"d":-0.06,"m":-0.32},{"d":-0.05,"m":-0.26},{"d":-0.03,"m":-0.14},{"d":-0.01,"m":-0.02},{"d":0.01,"m":0.1},{"d":0.03,"m":0.24},{"d":0.025,"m":0.16},{"d":0.005,"m":0.04},
{"d":-0.01,"m":0.16},{"d":0.01,"m":0.26},{"d":0.03,"m":0.38},{"d":0.05,"m":0.52},{"d":0.07,"m":0.67},{"d":0.09,"m":0.78},{"d":0.1,"m":0.82},{"d":0.09,"m":0.62},{"d":0.07,"m":0.39},{"d":0.05,"m":0.24},{"d":0.03,"m":0.1},{"d":0.01,"m":-0.02},{"d":-0.01,"m":-0.12},{"d":-0.03,"m":-0.21},{"d":-0.05,"m":-0.31},{"d":-0.07,"m":-0.41},{"d":-0.09,"m":-0.54},{"d":-0.11,"m":-0.66},{"d":-0.125,"m":-0.73},{"d":-0.11,"m":-0.54},{"d":-0.09,"m":-0.34},{"d":-0.07,"m":-0.19},{"d":-0.05,"m":-0.03},{"d":-0.03,"m":0.07},{"d":-0.01,"m":0.16},
{"d":0.0,"m":0.24},{"d":0.02,"m":0.35},{"d":0.04,"m":0.48},{"d":0.06,"m":0.62},{"d":0.08,"m":0.74},{"d":0.085,"m":0.76},{"d":0.08,"m":0.49},{"d":0.06,"m":0.29},{"d":0.04,"m":0.14},{"d":0.02,"m":0.01},{"d":0.0,"m":-0.1},{"d":-0.02,"m":-0.2},{"d":-0.04,"m":-0.29},{"d":-0.06,"m":-0.39},{"d":-0.08,"m":-0.5},{"d":-0.1,"m":-0.62},{"d":-0.105,"m":-0.6},{"d":-0.1,"m":-0.42},{"d":-0.08,"m":-0.24},{"d":-0.06,"m":-0.08},{"d":-0.04,"m":0.05},{"d":-0.02,"m":0.145},{"d":0.0,"m":0.2}
    ]},
     "mark": {"type": "line", "strokeWidth": 1.8, "clip": true},
     "encoding": {
      "x": {"field": "d", "type": "quantitative", "scale": {"domain": [-0.15, 0.15], "nice": false, "zero": false},
            "axis": {"orient": "bottom", "values": [-0.1,0,0.1], "title": null, "labelFontSize": 22, "labelPadding": 15}},
      "y": {"field": "m", "type": "quantitative", "scale": {"domain": [-1, 1], "nice": false, "zero": false},
            "axis": {"orient": "left", "values": [-0.8,0,0.8], "title": "Base moment [kN-m]", "titlePadding": 10, "labelFontSize": 22, "labelPadding": 13}},
      "order": {"value": null}
     }},
    {"data": {"values": [{}]},
     "mark": {"type": "text", "align": "left", "baseline": "alphabetic", "fontSize": 20, "dy": -9},
     "encoding": {
      "x": {"datum": -0.15, "type": "quantitative", "axis": {"orient": "top", "values": [-0.1,0,0.1], "labels": false, "title": null}},
      "y": {"datum": 1, "type": "quantitative", "axis": {"orient": "right", "values": [-0.8,0,0.8], "labels": false, "title": null}},
      "text": {"value": "x 10⁴"}
     }}
   ],
   "resolve": {"axis": {"x": "independent", "y": "independent"}}
  },
  {"width": 1, "height": 83, "data": {"values": [{}]}, "mark": {"type": "point", "opacity": 0}, "encoding": {}, "view": {"stroke": null}},
  {"width": 197, "height": 154,
   "layer": [
    {"data": {"values": [
{"d":0,"m":0},{"d":0.02,"m":0.05},{"d":0.05,"m":0.1},{"d":0.04,"m":0.0},{"d":0.0,"m":-0.08},{"d":-0.03,"m":-0.18},{"d":-0.01,"m":-0.15},{"d":0.03,"m":-0.05},{"d":0.07,"m":0.05},{"d":0.1,"m":0.1},{"d":0.08,"m":0.02},{"d":0.04,"m":-0.08},
{"d":0.06,"m":0.05},{"d":0.07,"m":0.12},{"d":0.05,"m":0.15},{"d":0.08,"m":0.2},{"d":0.1,"m":0.35},{"d":0.11,"m":0.5},{"d":0.12,"m":0.62},{"d":0.13,"m":0.72},{"d":0.15,"m":0.78},{"d":0.17,"m":0.8},{"d":0.19,"m":0.8},{"d":0.21,"m":0.83},{"d":0.24,"m":0.82},{"d":0.26,"m":0.86},{"d":0.29,"m":0.88},{"d":0.31,"m":0.9},{"d":0.33,"m":0.88},{"d":0.335,"m":0.82},{"d":0.32,"m":0.7},{"d":0.3,"m":0.6},{"d":0.27,"m":0.5},{"d":0.23,"m":0.35},{"d":0.19,"m":0.2},{"d":0.15,"m":0.08},{"d":0.11,"m":0.0},{"d":0.07,"m":-0.06},{"d":0.03,"m":-0.14},
{"d":-0.02,"m":-0.25},{"d":-0.07,"m":-0.38},{"d":-0.11,"m":-0.5},{"d":-0.15,"m":-0.63},{"d":-0.18,"m":-0.75},{"d":-0.195,"m":-0.88},{"d":-0.19,"m":-0.97},{"d":-0.175,"m":-1.0},{"d":-0.15,"m":-0.98},{"d":-0.11,"m":-0.9},{"d":-0.06,"m":-0.78},{"d":0.0,"m":-0.62},{"d":0.06,"m":-0.44},{"d":0.11,"m":-0.28},{"d":0.16,"m":-0.13},{"d":0.2,"m":0.0},{"d":0.24,"m":0.15},{"d":0.27,"m":0.3},{"d":0.29,"m":0.45},{"d":0.3,"m":0.55},{"d":0.305,"m":0.62},
{"d":0.29,"m":0.58},{"d":0.25,"m":0.45},{"d":0.2,"m":0.3},{"d":0.15,"m":0.18},{"d":0.1,"m":0.12},{"d":0.06,"m":0.14},{"d":0.03,"m":0.12},{"d":0.0,"m":0.07},{"d":-0.04,"m":-0.05},{"d":-0.08,"m":-0.2},{"d":-0.12,"m":-0.36},{"d":-0.15,"m":-0.5},{"d":-0.17,"m":-0.62},{"d":-0.18,"m":-0.7},{"d":-0.16,"m":-0.72},{"d":-0.13,"m":-0.72},{"d":-0.1,"m":-0.7},{"d":-0.07,"m":-0.66},{"d":-0.04,"m":-0.58},{"d":0.0,"m":-0.46},{"d":0.05,"m":-0.3},{"d":0.1,"m":-0.15},{"d":0.15,"m":0.0},{"d":0.2,"m":0.15},{"d":0.24,"m":0.3},{"d":0.27,"m":0.45},{"d":0.285,"m":0.55},{"d":0.29,"m":0.62},{"d":0.28,"m":0.64},{"d":0.27,"m":0.58},{"d":0.275,"m":0.66},{"d":0.26,"m":0.6},
{"d":0.22,"m":0.45},{"d":0.18,"m":0.32},{"d":0.14,"m":0.2},{"d":0.12,"m":0.22},{"d":0.1,"m":0.1},{"d":0.08,"m":0.0},{"d":0.05,"m":-0.1},{"d":0.02,"m":-0.02},{"d":-0.02,"m":-0.1},{"d":-0.06,"m":-0.22},{"d":-0.1,"m":-0.34},{"d":-0.12,"m":-0.42},{"d":-0.11,"m":-0.5},{"d":-0.1,"m":-0.44},{"d":-0.09,"m":-0.52},{"d":-0.07,"m":-0.44},{"d":-0.06,"m":-0.5},{"d":-0.04,"m":-0.4},{"d":0.0,"m":-0.3},{"d":0.04,"m":-0.18},{"d":0.08,"m":-0.06},{"d":0.12,"m":0.05},{"d":0.16,"m":0.18},{"d":0.2,"m":0.3},{"d":0.23,"m":0.42},{"d":0.25,"m":0.5},{"d":0.24,"m":0.55},{"d":0.22,"m":0.48},{"d":0.2,"m":0.4},{"d":0.18,"m":0.42},{"d":0.16,"m":0.3},{"d":0.13,"m":0.18},{"d":0.1,"m":0.05},{"d":0.07,"m":-0.02},{"d":0.04,"m":0.02},{"d":0.02,"m":-0.05},{"d":-0.02,"m":-0.15},{"d":-0.05,"m":-0.28},{"d":-0.08,"m":-0.38},{"d":-0.06,"m":-0.36},{"d":-0.03,"m":-0.28},{"d":0.02,"m":-0.16},{"d":0.06,"m":-0.06},{"d":0.1,"m":0.04},{"d":0.14,"m":0.1},{"d":0.17,"m":0.2},{"d":0.2,"m":0.3},{"d":0.19,"m":0.22},{"d":0.16,"m":0.12},{"d":0.13,"m":0.05},{"d":0.1,"m":-0.02},{"d":0.06,"m":-0.1},{"d":0.03,"m":-0.06},{"d":0.05,"m":0.0},{"d":0.08,"m":0.02},{"d":0.1,"m":0.0},{"d":0.12,"m":0.06},{"d":0.1,"m":0.02},{"d":0.06,"m":-0.04},{"d":0.03,"m":0.0}
    ]},
     "mark": {"type": "line", "strokeWidth": 1.3, "clip": true},
     "encoding": {
      "x": {"field": "d", "type": "quantitative", "scale": {"domain": [-0.3, 0.4], "nice": false, "zero": false},
            "axis": {"orient": "bottom", "values": [-0.2,0,0.3], "title": ["Roof displacement [m]", "(b)"], "titleLineHeight": 40, "titlePadding": 20, "labelFontSize": 22, "labelPadding": 15}},
      "y": {"field": "m", "type": "quantitative", "scale": {"domain": [-1.1, 1.1], "nice": false, "zero": false},
            "axis": {"orient": "left", "values": [-0.9,0,0.9], "title": null, "labelFontSize": 22, "labelPadding": 13}},
      "order": {"value": null}
     }},
    {"data": {"values": [{}]},
     "mark": {"type": "text", "align": "left", "baseline": "alphabetic", "fontSize": 20, "dy": -13},
     "encoding": {
      "x": {"datum": -0.3, "type": "quantitative", "axis": {"orient": "top", "values": [-0.2,0,0.2], "labels": false, "title": null}},
      "y": {"datum": 1.1, "type": "quantitative", "axis": {"orient": "right", "values": [-0.9,0,0.9], "labels": false, "title": null}},
      "text": {"value": "x 10⁴"}
     }}
   ],
   "resolve": {"axis": {"x": "independent", "y": "independent"}}
  }
]}
],
"config": {
 "view": {"stroke": "black", "strokeWidth": 1.5},
 "font": "Liberation Serif",
 "axis": {"domain": false, "grid": false, "ticks": true, "tickColor": "black", "tickWidth": 1, "tickSize": -6, "labelColor": "black", "titleColor": "black", "labelFont": "Liberation Serif", "titleFont": "Liberation Serif", "titleFontWeight": "normal", "labelFontSize": 24, "titleFontSize": 26, "labelFlush": false, "labelOverlap": false, "format": ".1~f"},
 "line": {"color": "black", "strokeWidth": 1},
 "text": {"font": "Liberation Serif", "fontSize": 21, "color": "black"}
}
}
